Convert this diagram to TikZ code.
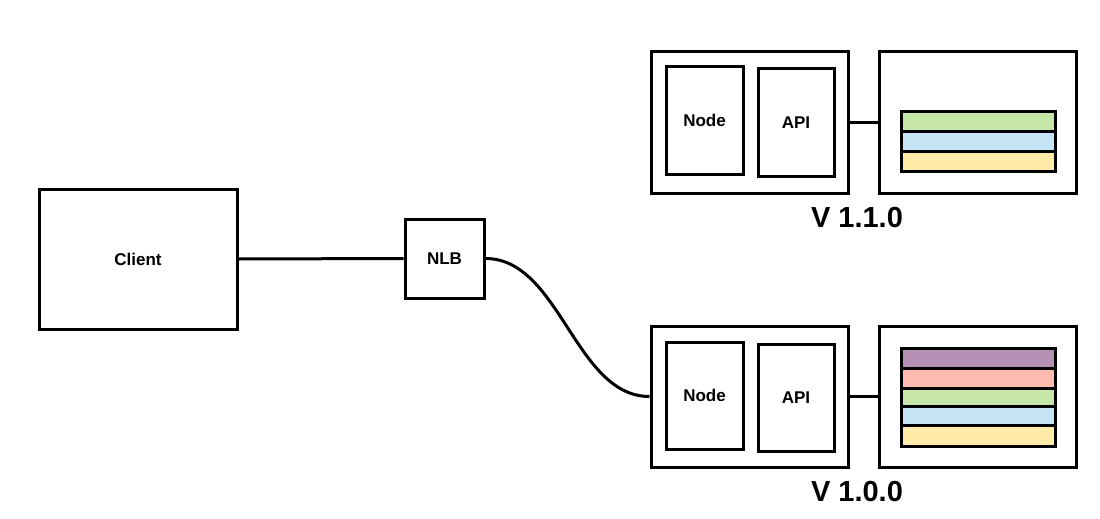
\documentclass[tikz,border=0pt]{standalone}
\usepackage{fontspec}
\setmainfont{Liberation Sans}
\definecolor{sgreen}{RGB}{197,230,166}
\definecolor{sblue}{RGB}{196,228,246}
\definecolor{syellow}{RGB}{255,235,168}
\definecolor{spurple}{RGB}{180,144,180}
\definecolor{spink}{RGB}{255,187,176}
\begin{document}
\begin{tikzpicture}[x=1pt,y=-1pt,line width=3pt,
  box/.style={draw=black,fill=white,rectangle,inner sep=0pt,font=\bfseries\fontsize{17}{20}\selectfont},
  conn/.style={draw=black,line width=3pt},
  vlabel/.style={font=\bfseries\fontsize{29}{34}\selectfont}]
\useasboundingbox (0,0) rectangle (1100,519);
% client and NLB
\node[box,minimum width=198pt,minimum height=140pt] (client) at (138,259) {Client};
\node[box,minimum width=79pt,minimum height=79pt] (nlb) at (444.5,258.5) {NLB};
% top group
\node[box,minimum width=197pt,minimum height=141pt] (g1) at (749.5,122.5) {};
\node[box,minimum width=77pt,minimum height=107pt] (n1) at (704.5,120.5) {Node};
\node[box,minimum width=76pt,minimum height=107pt] (a1) at (796,122.5) {API};
\node[box,minimum width=197pt,minimum height=141pt] (d1) at (977.5,122.5) {};
\draw[fill=sgreen] (901,111) rectangle (1055,131);
\draw[fill=sblue] (901,131) rectangle (1055,151);
\draw[fill=syellow] (901,151) rectangle (1055,171);
\node[vlabel] (v1) at (857,218) {V 1.1.0};
% bottom group
\node[box,minimum width=197pt,minimum height=141pt] (g2) at (749.5,396.5) {};
\node[box,minimum width=77pt,minimum height=107pt] (n2) at (704.5,395.5) {Node};
\node[box,minimum width=76pt,minimum height=107pt] (a2) at (796,397.5) {API};
\node[box,minimum width=197pt,minimum height=141pt] (d2) at (977.5,396.5) {};
\draw[fill=spurple] (901,348) rectangle (1055,368);
\draw[fill=spink] (901,368) rectangle (1055,388);
\draw[fill=sgreen] (901,388) rectangle (1055,406);
\draw[fill=sblue] (901,406) rectangle (1055,425);
\draw[fill=syellow] (901,425) rectangle (1055,446);
\node[vlabel] (v2) at (857,492) {V 1.0.0};
% connectors
\draw[conn] (client.east) -- (nlb.west);
\draw[conn] (nlb.east) .. controls (560,258.5) and (575,396.5) .. (g2.west);
\draw[conn] (g1.east) -- (d1.west);
\draw[conn] (g2.east) -- (d2.west);
\end{tikzpicture}
\end{document}
